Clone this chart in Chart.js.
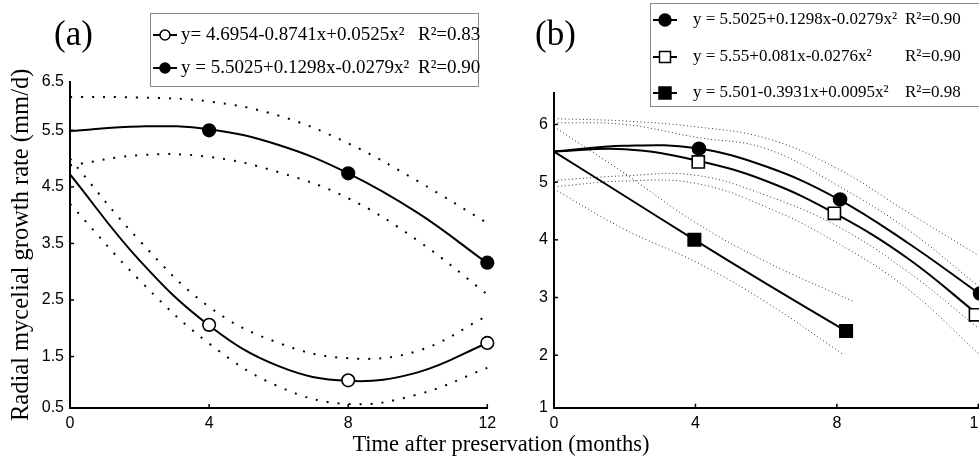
<!DOCTYPE html>
<html><head><meta charset="utf-8">
<script src="https://cdn.jsdelivr.net/npm/chart.js@4/dist/chart.umd.min.js"></script>
<style>
html,body{margin:0;padding:0;background:#fff;overflow:hidden;width:979px;height:459px;position:relative;}
.wrapA{position:absolute;left:0;top:0;width:979px;height:459px;}
.wrapB{position:absolute;left:0;top:0;width:1000px;height:459px;}
</style></head><body>
<div class="wrapA"><canvas id="ca"></canvas></div>
<div class="wrapB"><canvas id="cb"></canvas></div>
<script>
// ================= DATA =================
// Panel (a)
const monthsA = [0, 2, 4, 6, 8, 10, 12];
const aOpenFit     = [4.72, 3.20, 2.05, 1.33, 1.07, 1.22, 1.74];
const aOpenUpper   = [5.00, 3.55, 2.38, 1.74, 1.47, 1.60, 2.22];
const aOpenLower   = [4.20, 2.85, 1.73, 0.97, 0.66, 0.83, 1.30];
const aFilledFit   = [5.49, 5.57, 5.52, 5.24, 4.74, 4.04, 3.15];
const aFilledUpper = [6.09, 6.08, 6.01, 5.76, 5.27, 4.60, 3.86];
const aFilledLower = [4.88, 5.06, 5.03, 4.76, 4.30, 3.55, 2.60];
const aPointMonths  = [4, 8, 12];
const aOpenPoints   = [2.06, 1.08, 1.74];
const aFilledPoints = [5.50, 4.74, 3.16];
const aLegendEquations = ["y= 4.6954-0.8741x+0.0525x\u00B2", "y = 5.5025+0.1298x-0.0279x\u00B2"];
const aLegendR2 = ["R\u00B2=0.83", "R\u00B2=0.90"];
const aYTickValues = [0.59, 1.5, 2.5, 3.5, 4.5, 5.5, 6.36];
const aYTickLabels = ["0.5", "1.5", "2.5", "3.5", "4.5", "5.5", "6.5"];

// Panel (b)
const monthsB = [0, 2, 4, 6, 8, 10, 12];
const bCircleFit   = [5.53, 5.63, 5.59, 5.27, 4.72, 3.95, 3.08];
const bCircleUpper = [6.10, 6.06, 5.96, 5.76, 5.24, 4.48, 3.73];
const bCircleLower = [5.03, 5.11, 5.12, 4.77, 4.24, 3.45, 2.47];
const bOpenSqFit   = [5.53, 5.57, 5.38, 5.02, 4.44, 3.68, 2.70];
const bOpenSqUpper = [6.03, 6.00, 5.78, 5.58, 4.95, 4.18, 3.20];
const bOpenSqLower = [4.92, 5.02, 4.98, 4.57, 3.95, 3.15, 2.03];
const bSquareFitMonths   = [0, 2, 4, 6, 8.25];
const bSquareFit         = [5.53, 4.76, 3.99, 3.24, 2.42];
const bSquareUpperMonths = [0, 2, 4, 6, 8.47];
const bSquareUpper       = [5.96, 5.15, 4.30, 3.62, 2.93];
const bSquareLowerMonths = [0, 2, 4, 6, 8.14];
const bSquareLower       = [4.88, 4.18, 3.62, 2.92, 2.03];
const bCircleMonths  = [4.10, 8.09, 12.05];
const bCirclePoints  = [5.58, 4.70, 3.07];
const bOpenSqMonths  = [4.08, 7.93, 11.92];
const bOpenSqPoints  = [5.35, 4.46, 2.70];
const bSquareMonths  = [3.97, 8.26];
const bSquarePoints  = [4.00, 2.42];
const bLegendEquations = ["y = 5.5025+0.1298x-0.0279x\u00B2", "y = 5.55+0.081x-0.0276x\u00B2", "y = 5.501-0.3931x+0.0095x\u00B2"];
const bLegendR2 = ["R\u00B2=0.90", "R\u00B2=0.90", "R\u00B2=0.98"];
const bYTickValues = [1.09, 2, 3, 4, 5, 6];
const bYTickLabels = ["1", "2", "3", "4", "5", "6"];

const xTickValues = [0, 4, 8, 12];
const panelLabels = ["(a)", "(b)"];
const yTitle = "Radial mycelial growth rate (mm/d)";
const xTitle = "Time after preservation (months)";

// ================= HELPERS =================
const SERIF = '"Liberation Serif", "Times New Roman", serif';
const SANS = '"Liberation Sans", Arial, sans-serif';
const pts = (xs, ys) => xs.map((x, i) => ({x: x, y: ys[i]}));

function curve(xs, ys, dotted, thin) {
  return {
    data: pts(xs, ys), borderColor: dotted && thin ? '#333' : '#000',
    borderWidth: dotted ? (thin ? 1 : 2) : 2,
    borderDash: dotted ? (thin ? [1, 2.6] : [2, 9]) : [],
    borderCapStyle: 'butt', pointRadius: 0, fill: false,
    tension: 0.4, clip: false
  };
}
function markers(xs, ys, style, filled, r) {
  return {
    data: pts(xs, ys), showLine: false, pointStyle: style, pointRadius: r,
    pointBackgroundColor: filled ? '#000' : '#fff', pointBorderColor: '#000',
    pointBorderWidth: 1.6, clip: false
  };
}
function yScale(min, max, vals, labels, width, title) {
  return {
    type: 'linear', min: min, max: max,
    afterBuildTicks: s => { s.ticks = vals.map(v => ({value: v})); },
    ticks: { callback: (v, i) => labels[i], color: '#000', padding: 6, autoSkip: false,
             font: {family: SANS, size: 16} },
    grid: {display: false, drawTicks: false},
    border: {display: true, color: '#000', width: 2},
    title: title ? {display: true, text: title, color: '#000', padding: {top: 7, bottom: 0},
                    font: {family: SERIF, size: 24.5}} : {display: false},
    afterFit: s => { s.width = width; }
  };
}
function xScale(height) {
  return {
    type: 'linear', min: 0, max: 12,
    afterBuildTicks: s => { s.ticks = xTickValues.map(v => ({value: v})); },
    ticks: { color: '#000', padding: 6, autoSkip: false, maxRotation: 0,
             font: {family: SANS, size: 16} },
    grid: {display: false, drawTicks: false},
    border: {display: true, color: '#000', width: 2},
    afterFit: s => { s.height = height; s.paddingLeft = 0; s.paddingRight = 0; }
  };
}
const innerTicks = {
  id: 'innerTicks',
  afterDraw(chart) {
    const ctx = chart.ctx, xs = chart.scales.x, ys = chart.scales.y;
    ctx.save(); ctx.strokeStyle = '#000'; ctx.lineWidth = 1.5;
    xs.ticks.forEach(t => { if (t.value === xs.min) return;
      const p = xs.getPixelForValue(t.value);
      ctx.beginPath(); ctx.moveTo(p, ys.bottom); ctx.lineTo(p, ys.bottom - 4); ctx.stroke(); });
    ys.ticks.forEach(t => { if (t.value === ys.min || t.value === ys.max) return;
      const p = ys.getPixelForValue(t.value);
      ctx.beginPath(); ctx.moveTo(xs.left, p); ctx.lineTo(xs.left + 4, p); ctx.stroke(); });
    ctx.restore();
  }
};
function drawMarker(ctx, style, filled, x, y, r) {
  ctx.beginPath();
  if (style === 'circle') ctx.arc(x, y, r, 0, 2 * Math.PI);
  else ctx.rect(x - r, y - r, 2 * r, 2 * r);
  ctx.fillStyle = filled ? '#000' : '#fff'; ctx.fill();
  ctx.lineWidth = 1.5; ctx.strokeStyle = '#000'; ctx.stroke();
}
function legendPlugin(id, box, rows, eqs, r2s, styles, fontSize, eqX, r2X, label, labelPos, extra) {
  return {
    id: id,
    afterDraw(chart) {
      const ctx = chart.ctx; ctx.save();
      ctx.fillStyle = '#fff'; ctx.fillRect(box[0], box[1], box[2], box[3]);
      ctx.strokeStyle = '#8a8a8a'; ctx.lineWidth = 1;
      ctx.strokeRect(box[0] + 0.5, box[1] + 0.5, box[2], box[3]);
      ctx.textBaseline = 'middle'; ctx.textAlign = 'left';
      ctx.font = fontSize + 'px ' + SERIF;
      eqs.forEach((t, i) => {
        const y = rows[i], x0 = box[0] + 3;
        ctx.strokeStyle = '#000'; ctx.lineWidth = 2;
        ctx.beginPath(); ctx.moveTo(x0, y); ctx.lineTo(x0 + 24, y); ctx.stroke();
        drawMarker(ctx, styles[i][0], styles[i][1], x0 + 12, y, styles[i][2]);
        ctx.fillStyle = '#000';
        ctx.fillText(t, eqX, y); ctx.fillText(r2s[i], r2X, y);
      });
      ctx.font = '35px ' + SERIF; ctx.textBaseline = 'alphabetic';
      ctx.fillText(label, labelPos[0], labelPos[1]);
      if (extra) extra(ctx);
      ctx.restore();
    }
  };
}
Chart.defaults.animation = false;

// ================= PANEL (a) =================
new Chart(document.getElementById('ca'), {
  type: 'line',
  data: { datasets: [
    markers(aPointMonths, aFilledPoints, 'circle', true, 6.3),
    markers(aPointMonths, aOpenPoints, 'circle', false, 6.3),
    curve(monthsA, aFilledFit, false),
    curve(monthsA, aOpenFit, false),
    curve(monthsA, aFilledUpper, true), curve(monthsA, aFilledLower, true),
    curve(monthsA, aOpenUpper, true), curve(monthsA, aOpenLower, true)
  ]},
  options: {
    responsive: true, maintainAspectRatio: false, devicePixelRatio: 1,
    layout: {padding: {left: 0, top: 81.7, right: 491.7, bottom: 0}},
    scales: { x: xScale(51), y: yScale(0.59, 6.36, aYTickValues, aYTickLabels, 70, yTitle) },
    plugins: {legend: {display: false}, tooltip: {enabled: false}}
  },
  plugins: [innerTicks, legendPlugin('legA', [150, 13, 328, 73], [35, 68], aLegendEquations, aLegendR2,
    [['circle', false, 5], ['circle', true, 5]], 19, 181, 418, panelLabels[0], [54, 45])]
});

// ================= PANEL (b) =================
new Chart(document.getElementById('cb'), {
  type: 'line',
  data: { datasets: [
    markers(bCircleMonths, bCirclePoints, 'circle', true, 6.5),
    markers(bOpenSqMonths, bOpenSqPoints, 'rect', false, 8.6),
    markers(bSquareMonths, bSquarePoints, 'rect', true, 8.8),
    curve(monthsB, bCircleFit, false),
    curve(monthsB, bOpenSqFit, false),
    curve(bSquareFitMonths, bSquareFit, false),
    curve(monthsB, bCircleUpper, true, true), curve(monthsB, bCircleLower, true, true),
    curve(monthsB, bOpenSqUpper, true, true), curve(monthsB, bOpenSqLower, true, true),
    curve(bSquareUpperMonths, bSquareUpper, true, true), curve(bSquareLowerMonths, bSquareLower, true, true)
  ]},
  options: {
    responsive: true, maintainAspectRatio: false, devicePixelRatio: 1,
    layout: {padding: {left: 0, top: 93.3, right: 21.7, bottom: 0}},
    scales: { x: xScale(51.3), y: yScale(1.09, 6.54, bYTickValues, bYTickLabels, 554, null) },
    plugins: {legend: {display: false}, tooltip: {enabled: false}}
  },
  plugins: [innerTicks, legendPlugin('legB', [650, 3, 345, 103], [20, 57, 93], bLegendEquations, bLegendR2,
    [['circle', true, 6], ['rect', false, 5.5], ['rect', true, 6]], 17, 693, 905, panelLabels[1], [535, 45],
    ctx => { ctx.font = '22.5px ' + SERIF; ctx.textAlign = 'center'; ctx.fillStyle = '#000';
             ctx.fillText(xTitle, 501, 451); })]
});
</script>
</body></html>
